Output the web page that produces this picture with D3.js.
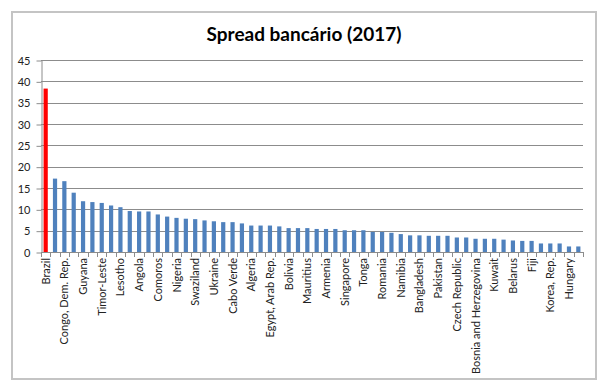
<!DOCTYPE html>
<html>
<head>
<meta charset="utf-8">
<script src="https://cdn.jsdelivr.net/npm/d3@7"></script>
<style>
  body { margin: 0; background: #fff; }
</style>
</head>
<body>
<div id="chart"></div>
<script>
const countries = [
  'Brazil', 'Madagascar', 'Congo, Dem. Rep.', 'Malawi', 'Guyana', 'Sao Tome and Principe',
  'Timor-Leste', 'Peru', 'Lesotho', 'Uganda', 'Angola', 'Sierra Leone', 'Comoros',
  'Mozambique', 'Nigeria', 'Paraguay', 'Swaziland', 'Honduras', 'Ukraine', 'Zambia',
  'Cabo Verde', 'Kyrgyz Republic', 'Algeria', 'Gambia, The', 'Egypt, Arab Rep.', 'Albania',
  'Bolivia', 'Jamaica', 'Mauritius', 'Guatemala', 'Armenia', 'Botswana', 'Singapore',
  'Moldova', 'Tonga', 'Georgia', 'Romania', 'Mexico', 'Namibia', 'Thailand', 'Bangladesh',
  'Tanzania', 'Pakistan', 'Philippines', 'Czech Republic', 'Macedonia, FYR',
  'Bosnia and Herzegovina', 'Lebanon', 'Kuwait', 'China', 'Belarus', 'Azerbaijan', 'Fiji',
  'Hong Kong SAR, China', 'Korea, Rep.', 'Switzerland', 'Hungary', 'Japan'
]

const spread = [
  38.3, 17.2, 16.6, 13.9, 11.9, 11.7, 11.5, 10.9, 10.5, 9.6, 9.5, 9.5, 8.8,
  8.3, 8.0, 7.8, 7.7, 7.4, 7.2, 7.0, 7.0, 6.7, 6.2, 6.2, 6.2, 6.0,
  5.6, 5.6, 5.6, 5.4, 5.4, 5.4, 5.1, 5.1, 5.1, 4.7, 4.7, 4.5, 4.2, 3.9, 3.9,
  3.8, 3.8, 3.8, 3.4, 3.4, 3.1, 3.1, 3.1, 2.9, 2.7, 2.6, 2.6,
  2.0, 2.0, 2.0, 1.3, 1.3
]

const yTicks = [0, 5, 10, 15, 20, 25, 30, 35, 40, 45]

const width = 606
const height = 391
const plot = { left: 41, right: 583, top: 60, bottom: 252 }

const svg = d3.select('#chart')
  .append('svg')
  .attr('width', width)
  .attr('height', height)
  .style('font-family', 'Lato, "Open Sans", sans-serif')

// chart border
svg.append('rect')
  .attr('x', 12)
  .attr('y', 12)
  .attr('width', 584)
  .attr('height', 367)
  .attr('fill', '#fff')
  .attr('stroke', '#c4c4c4')
  .attr('stroke-width', 2)

svg.append('text')
  .attr('x', 304)
  .attr('y', 41)
  .attr('text-anchor', 'middle')
  .attr('font-size', 19)
  .attr('font-weight', 'bold')
  .attr('fill', '#000')
  .text('Spread bancário (2017)')

const x = d3.scaleBand()
  .domain(countries)
  .range([plot.left, plot.right])
  .paddingInner(0.55)
  .paddingOuter(0.275)

const y = d3.scaleLinear()
  .domain([0, 45])
  .range([plot.bottom, plot.top])

// gridlines
svg.append('g')
  .selectAll('line')
  .data(yTicks.filter(t => t > 0))
  .join('line')
  .attr('x1', plot.left)
  .attr('x2', plot.right)
  .attr('y1', d => Math.round(y(d)) + 0.5)
  .attr('y2', d => Math.round(y(d)) + 0.5)
  .attr('stroke', '#8c8c8c')

// y axis
const yAxis = svg.append('g')
  .attr('transform', `translate(${plot.left + 0.5}, 0.5)`)
  .call(d3.axisLeft(y).tickValues(yTicks).tickSize(5).tickPadding(6).tickSizeOuter(0))
yAxis.select('.domain').attr('stroke', '#8c8c8c')
yAxis.selectAll('.tick line').attr('stroke', '#8c8c8c')
yAxis.selectAll('.tick text')
  .attr('font-size', 11)
  .attr('fill', '#222')
  .style('font-family', 'Lato, sans-serif')

// bars
svg.append('g')
  .selectAll('rect')
  .data(countries)
  .join('rect')
  .attr('x', d => x(d))
  .attr('width', x.bandwidth())
  .attr('y', (d, i) => y(spread[i]))
  .attr('height', (d, i) => y(0) - y(spread[i]))
  .attr('fill', d => d === 'Brazil' ? '#ff0000' : '#4f81bd')

// x axis baseline and ticks between categories
const step = x.step()
const edge = (d) => x(d) - (step - x.bandwidth()) / 2
const xAxis = svg.append('g')
xAxis.append('line')
  .attr('x1', plot.left)
  .attr('x2', plot.right)
  .attr('y1', plot.bottom + 0.5)
  .attr('y2', plot.bottom + 0.5)
  .attr('stroke', '#8c8c8c')
xAxis.selectAll('line.tick')
  .data(countries.concat(['__end']))
  .join('line')
  .attr('class', 'tick')
  .attr('x1', d => d === '__end' ? plot.right + 0.5 : Math.round(edge(d)) + 0.5)
  .attr('x2', d => d === '__end' ? plot.right + 0.5 : Math.round(edge(d)) + 0.5)
  .attr('y1', plot.bottom)
  .attr('y2', plot.bottom + 5)
  .attr('stroke', '#8c8c8c')

// category labels, every other one
xAxis.selectAll('text')
  .data(countries.filter((d, i) => i % 2 === 0))
  .join('text')
  .attr('transform', d => `translate(${x(d) + x.bandwidth() / 2 + 4}, ${plot.bottom + 6}) rotate(-90)`)
  .attr('text-anchor', 'end')
  .attr('font-size', 11)
  .attr('fill', '#222')
  .text(d => d)
</script>
</body>
</html>
